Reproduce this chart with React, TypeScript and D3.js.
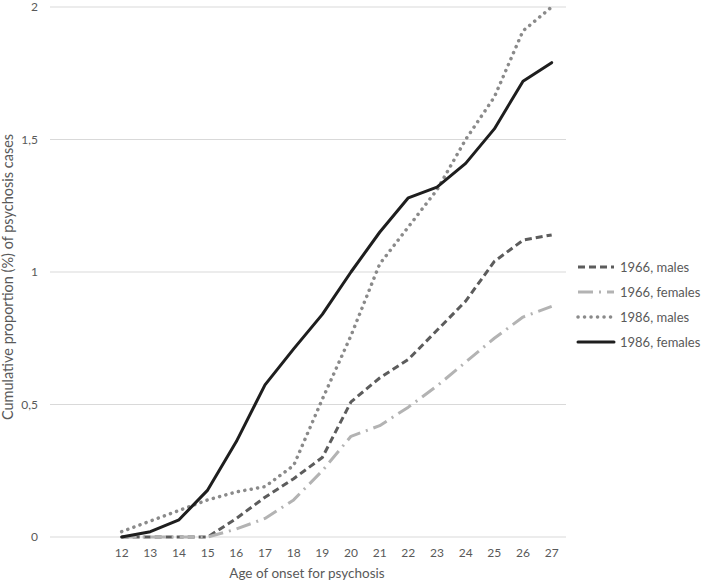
import React from "react";
import * as d3 from "d3";

const categories = ["", "", "12", "13", "14", "15", "16", "17", "18", "19", "20", "21", "22", "23", "24", "25", "26", "27"];
const ages = ["12", "13", "14", "15", "16", "17", "18", "19", "20", "21", "22", "23", "24", "25", "26", "27"];
const males1966 = [0, 0, 0, 0, 0.07, 0.15, 0.22, 0.3, 0.51, 0.6, 0.67, 0.78, 0.89, 1.04, 1.12, 1.14];
const females1966 = [0, 0, 0, 0, 0.03, 0.07, 0.14, 0.25, 0.38, 0.42, 0.49, 0.57, 0.66, 0.75, 0.83, 0.87];
const males1986 = [0.02, 0.06, 0.1, 0.14, 0.17, 0.19, 0.27, 0.52, 0.76, 1.03, 1.17, 1.31, 1.5, 1.66, 1.91, 2.0];
const females1986 = [0, 0.02, 0.065, 0.177, 0.36, 0.574, 0.71, 0.84, 1.0, 1.15, 1.28, 1.32, 1.41, 1.54, 1.72, 1.79];
const yTicks = [0, 0.5, 1, 1.5, 2];
const yTickLabels = ["0", "0,5", "1", "1,5", "2"];

const series = [
  { name: "1966, males", values: males1966, color: "#5c5c5c", width: 3, dash: "7 4", cap: "butt" },
  { name: "1966, females", values: females1966, color: "#b3b3b3", width: 3, dash: "15 6 2 6", cap: "butt" },
  { name: "1986, males", values: males1986, color: "#8a8a8a", width: 3.5, dash: "0.1 6.4", cap: "round" },
  { name: "1986, females", values: females1986, color: "#1e1e1e", width: 3, dash: "", cap: "round" },
];

const font = "Lato, 'Open Sans', sans-serif";

export default function App() {
  const W = 702, H = 586;
  const left = 50, right = 566, top = 7, bottom = 537;
  const x = d3.scaleBand().domain(categories.map((c, i) => String(i))).range([left, right]);
  const xc = (label: string) => {
    const i = categories.indexOf(label);
    return (x(String(i)) as number) + x.bandwidth() / 2;
  };
  const y = d3.scaleLinear().domain([0, 2]).range([bottom, top]);
  const line = d3.line<number>().x((_, i) => xc(ages[i])).y((d) => y(d));

  return (
    <svg width={W} height={H} style={{ position: "absolute", left: 0, top: 0 }} fontFamily={font}>
      <rect width={W} height={H} fill="#fff" />
      {yTicks.map((t, i) => (
        <g key={i}>
          <line x1={left} x2={right} y1={y(t)} y2={y(t)} stroke="#d9d9d9" strokeWidth={1} />
          <text x={38} y={y(t) + 4} textAnchor="end" fontSize={12} fill="#595959">{yTickLabels[i]}</text>
        </g>
      ))}
      {categories.map((c, i) =>
        c ? (
          <text key={i} x={xc(c)} y={557} textAnchor="middle" fontSize={12} fill="#595959">{c}</text>
        ) : null
      )}
      <text x={307} y={578} textAnchor="middle" fontSize={13.5} fill="#595959">Age of onset for psychosis</text>
      <text transform={`translate(13,277) rotate(-90)`} textAnchor="middle" fontSize={14.5} fill="#595959">
        Cumulative proportion (%) of psychosis cases
      </text>
      {series.map((s, i) => (
        <path key={i} d={line(s.values) || ""} fill="none" stroke={s.color} strokeWidth={s.width}
          strokeDasharray={s.dash || undefined} strokeLinecap={s.cap as any} strokeLinejoin="round" />
      ))}
      {series.map((s, i) => {
        const ly = 267 + i * 25;
        return (
          <g key={i}>
            <line x1={578} x2={614} y1={ly} y2={ly} stroke={s.color} strokeWidth={s.width}
              strokeDasharray={s.dash || undefined} strokeLinecap={s.cap as any} />
            <text x={620} y={ly + 4.5} fontSize={13} fill="#595959">{s.name}</text>
          </g>
        );
      })}
    </svg>
  );
}
